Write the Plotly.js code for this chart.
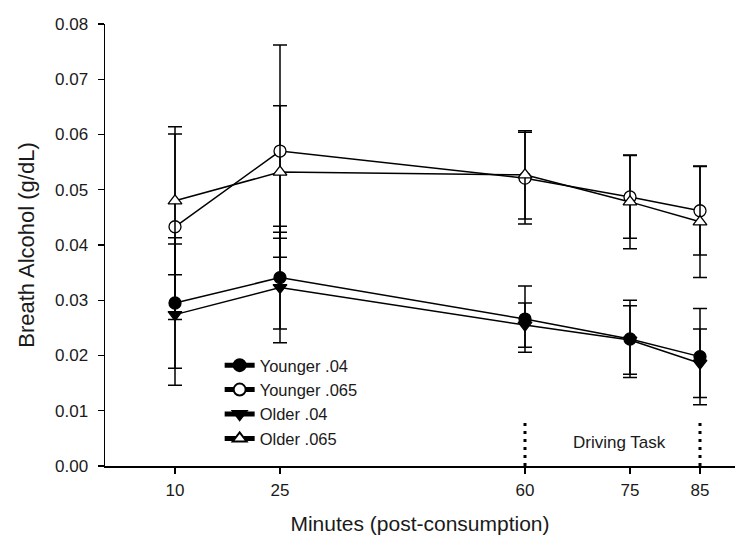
<!DOCTYPE html>
<html>
<head>
<meta charset="utf-8">
<script src="https://cdn.plot.ly/plotly-3.0.1.min.js"></script>
<style>html,body{margin:0;padding:0;background:#fff;}#chart{width:751px;height:554px;}</style>
</head>
<body>
<div id="chart"></div>
<script>
// Data
const minutes = [10, 25, 60, 75, 85];
const tickLabels = ['10', '25', '60', '75', '85'];

const younger04 = [0.0295, 0.0341, 0.0266, 0.0230, 0.0198];
const younger04Err = [0.0118, 0.0093, 0.0060, 0.0070, 0.0087];

const younger065 = [0.0433, 0.0570, 0.0521, 0.0487, 0.0462];
const younger065Err = [0.0168, 0.0192, 0.0083, 0.0075, 0.0080];

const older04 = [0.0274, 0.0323, 0.0255, 0.0228, 0.0186];
const older04Err = [0.0128, 0.0100, 0.0040, 0.0062, 0.0062];

const older065 = [0.0480, 0.0532, 0.0527, 0.0478, 0.0442];
const older065Err = [0.0134, 0.0120, 0.0080, 0.0085, 0.0101];

const drivingTaskBounds = [60, 85];
const drivingMarkerTop = 0.0085;

const seriesNames = ['Younger .04', 'Younger .065', 'Older .04', 'Older .065'];

function series(name, y, err, symbol, fill, size) {
  return {
    type: 'scatter', mode: 'lines+markers', name: name,
    x: minutes, y: y,
    line: {color: '#000', width: 1.5},
    marker: {symbol: symbol, size: size, color: fill, line: {color: '#000', width: 1.3}},
    error_y: {type: 'data', array: err, visible: true, color: '#000', thickness: 1.5, width: 7}
  };
}

const traces = [
  series(seriesNames[0], younger04, younger04Err, 'circle', '#000', 12),
  series(seriesNames[1], younger065, younger065Err, 'circle', '#fff', 12),
  series(seriesNames[2], older04, older04Err, 'triangle-down', '#000', 12),
  series(seriesNames[3], older065, older065Err, 'triangle-up', '#fff', 12)
];

drivingTaskBounds.forEach(function (xv) {
  traces.push({
    type: 'scatter', mode: 'lines', showlegend: false, hoverinfo: 'skip',
    x: [xv, xv], y: [0, drivingMarkerTop],
    line: {color: '#000', width: 3, dash: '3px,5px'}
  });
});

const fam = 'Liberation Sans, Arial, sans-serif';
const txt = '#1a1a1a';

const layout = {
  width: 751, height: 554,
  margin: {l: 105, r: 16, t: 24, b: 88},
  paper_bgcolor: '#fff', plot_bgcolor: '#fff',
  font: {family: fam, size: 16, color: txt},
  showlegend: true,
  legend: {
    x: 0.182, y: 0.145, xanchor: 'left', yanchor: 'middle',
    bgcolor: 'rgba(0,0,0,0)', borderwidth: 0,
    font: {family: fam, size: 16.5, color: txt},
    tracegroupgap: 0, itemsizing: 'constant'
  },
  xaxis: {
    range: [0, 90], tickmode: 'array', tickvals: minutes, ticktext: tickLabels,
    showgrid: false, zeroline: false, showline: true, linecolor: '#000', linewidth: 1.5,
    ticks: 'outside', ticklen: 6, tickwidth: 1.3, tickcolor: '#000',
    ticklabelstandoff: 2,
    tickfont: {family: fam, size: 17, color: txt},
    title: {text: 'Minutes (post-consumption)', font: {family: fam, size: 21, color: txt}, standoff: 17}
  },
  yaxis: {
    range: [0, 0.08], dtick: 0.01, tick0: 0, tickformat: '.2f',
    showgrid: false, zeroline: false, showline: true, linecolor: '#000', linewidth: 1.5,
    ticks: 'outside', ticklen: 6, tickwidth: 1.3, tickcolor: '#000',
    ticklabelstandoff: 6,
    tickfont: {family: fam, size: 17, color: txt},
    title: {text: 'Breath Alcohol (g/dL)', font: {family: fam, size: 22, color: txt}, standoff: 14}
  },
  annotations: [{
    x: 73.5, y: 0.0043, xref: 'x', yref: 'y', text: 'Driving Task', showarrow: false,
    font: {family: fam, size: 17, color: txt}
  }]
};

Plotly.newPlot('chart', traces, layout, {displayModeBar: false, staticPlot: true});
</script>
</body>
</html>
